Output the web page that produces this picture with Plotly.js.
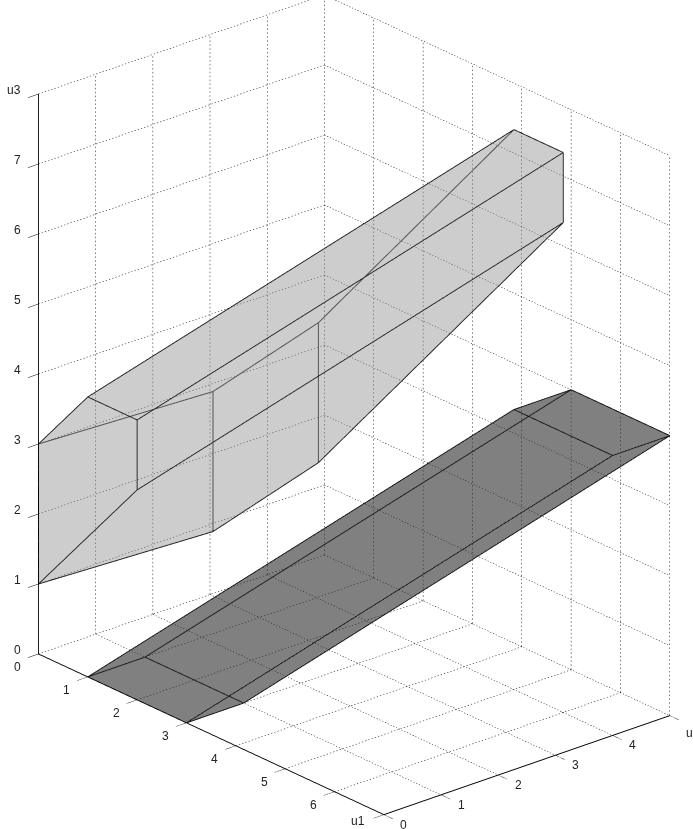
<!DOCTYPE html>
<html>
<head>
<meta charset="utf-8">
<script src="https://cdn.plot.ly/plotly-3.0.1.min.js"></script>
<style>html,body{margin:0;padding:0;background:#fff;overflow:hidden}#plot{width:693px;height:829px}</style>
</head>
<body>
<div id="plot"></div>
<script>
// Tick positions and labels of the three axes
const u1Ticks = [0, 1, 2, 3, 4, 5, 6, 7];
const u2Ticks = [0, 1, 2, 3, 4, 5];
const u3Ticks = [0, 1, 2, 3, 4, 5, 6, 7, 8];
const u1Labels = ["0", "1", "2", "3", "4", "5", "6", "u1"];
const u2Labels = ["0", "1", "2", "3", "4", "u"];
const u3Labels = ["0", "1", "2", "3", "4", "5", "6", "7", "u3"];

// Upper (light) polytope vertices
const upperU1 = [0, 0, 1, 2, 2, 0.2, 0.2, 1.14, 1.14, 5, 6, 6];
const upperU2 = [0, 0, 0, 0, 0, 2.88, 2.88, 3.91, 3.91, 4, 4, 4];
const upperU3 = [1, 3, 4, 4, 3, 1, 3, 2, 4, 8, 8, 7];
const upperFaces = [[0, 4, 3, 2, 1], [0, 4, 11, 7, 5], [4, 3, 10, 11], [2, 3, 10, 9]];
const upperEdges = [[0, 1], [1, 2], [2, 3], [3, 4], [4, 0], [0, 5], [1, 6], [5, 6], [5, 7], [6, 8], [7, 8],
  [7, 11], [8, 9], [2, 9], [3, 10], [4, 11], [9, 10], [10, 11]];

// Lower (dark) polytope vertices
const lowerU1 = [1, 1, 3, 3, 5, 5, 7, 7];
const lowerU2 = [0, 1, 1, 0, 4, 5, 5, 4];
const lowerU3 = [0, 0, 0, 0, 4, 4, 4, 4];
const lowerFaces = [[4, 5, 6, 7], [0, 3, 7, 4], [3, 2, 6, 7]];
const lowerEdges = [[0, 1], [1, 2], [2, 3], [3, 0], [4, 5], [5, 6], [6, 7], [7, 4], [0, 4], [1, 5], [2, 6], [3, 7]];

const eye = { x: 0.69, y: -0.605, z: 0.392 };
const eyeScale = 2.5;
const boxScale = 0.1837;
const flatScale = 0.992;
const tallScale = 1.0036;
const labelFont = { family: "Liberation Sans, Arial, sans-serif", size: 12, color: "#222222" };

// Fan triangulation of the polygon faces for mesh3d
function meshTrace(xs, ys, zs, faces, color, opacity) {
  const i = [], j = [], k = [];
  faces.forEach(face => {
    for (let n = 1; n < face.length - 1; n++) {
      i.push(face[0]);
      j.push(face[n]);
      k.push(face[n + 1]);
    }
  });
  return {
    type: "mesh3d", x: xs, y: ys, z: zs, i, j, k,
    color, opacity, flatshading: true, hoverinfo: "skip",
    lighting: { ambient: 1, diffuse: 0, specular: 0, roughness: 1, fresnel: 0 }
  };
}

// Polytope edges as one broken line
function edgeTrace(xs, ys, zs, edges, color) {
  const x = [], y = [], z = [];
  edges.forEach(([a, b]) => {
    x.push(xs[a], xs[b], null);
    y.push(ys[a], ys[b], null);
    z.push(zs[a], zs[b], null);
  });
  return { type: "scatter3d", mode: "lines", x, y, z, hoverinfo: "skip", line: { color, width: 2 } };
}

// Dotted grid on the floor and on the two back walls.
// The gl dash pattern is far too long here, so each grid line is cut into short pieces
function gridTrace() {
  const x = [], y = [], z = [];
  const top1 = u1Ticks[u1Ticks.length - 1];
  const top2 = u2Ticks[u2Ticks.length - 1];
  const top3 = u3Ticks[u3Ticks.length - 1];
  const step = 0.056, dot = 0.022;
  const seg = (a, b) => {
    const len = Math.hypot(b[0] - a[0], b[1] - a[1], b[2] - a[2]);
    for (let s = 0; s < len; s += step) {
      const e = Math.min(len, s + dot);
      x.push(a[0] + (b[0] - a[0]) * s / len, a[0] + (b[0] - a[0]) * e / len, null);
      y.push(a[1] + (b[1] - a[1]) * s / len, a[1] + (b[1] - a[1]) * e / len, null);
      z.push(a[2] + (b[2] - a[2]) * s / len, a[2] + (b[2] - a[2]) * e / len, null);
    }
  };
  u1Ticks.forEach(t => {
    seg([t, 0, 0], [t, top2, 0]);
    seg([t, top2, 0], [t, top2, top3]);
  });
  u2Ticks.forEach(t => {
    seg([0, t, 0], [top1, t, 0]);
    seg([0, t, 0], [0, t, top3]);
  });
  u3Ticks.forEach(t => {
    seg([0, 0, t], [0, top2, t]);
    seg([0, top2, t], [top1, top2, t]);
  });
  return { type: "scatter3d", mode: "lines", x, y, z, hoverinfo: "skip", line: { color: "#000000", width: 1 } };
}

function axisStyle(ticks) {
  return {
    title: { text: "" },
    range: [ticks[0], ticks[ticks.length - 1]],
    tickmode: "array", tickvals: ticks, showticklabels: false,
    ticks: "outside", ticklen: 14, tickcolor: "#000000", tickwidth: 1,
    showgrid: false, zeroline: false, showbackground: false,
    showline: true, linecolor: "#000000", linewidth: 2,
    showspikes: false
  };
}

// gl3d tick labels cannot be nudged, so they are anchored on the ticks as scene annotations
function tickLabel(x, y, z, text, xshift, yshift) {
  return { x, y, z, text, xshift, yshift, showarrow: false, xanchor: "center", yanchor: "middle", font: labelFont };
}

const tickLabels = [
  ...u1Ticks.map((t, n) => n === u1Ticks.length - 1
    ? tickLabel(t, 0, 0, u1Labels[n], -26, -6)
    : tickLabel(t, 0, 0, u1Labels[n], -21, -13)),
  ...u2Ticks.map((t, n) => tickLabel(u1Ticks[u1Ticks.length - 1], t, 0, u2Labels[n], 20, n === u2Ticks.length - 1 ? -17 : -10)),
  ...u3Ticks.map((t, n) => tickLabel(0, 0, t, u3Labels[n], n === u3Ticks.length - 1 ? -24 : -21, 4))
];

const traces = [
  gridTrace(),
  meshTrace(upperU1, upperU2, upperU3, upperFaces, "#909090", 0.45),
  meshTrace(lowerU1, lowerU2, lowerU3, lowerFaces, "#2b2b2b", 0.6),
  edgeTrace(upperU1, upperU2, upperU3, upperEdges, "#222222"),
  edgeTrace(lowerU1, lowerU2, lowerU3, lowerEdges, "#111111")
];

const layout = {
  width: 693, height: 829,
  margin: { l: 0, r: 0, t: 0, b: 0 },
  paper_bgcolor: "#ffffff",
  showlegend: false,
  scene: {
    domain: { x: [0, 1], y: [0, 1] },
    aspectmode: "manual",
    aspectratio: { x: 7 * boxScale * flatScale, y: 5 * boxScale * flatScale, z: 8 * boxScale * tallScale },
    xaxis: axisStyle(u1Ticks),
    yaxis: axisStyle(u2Ticks),
    zaxis: axisStyle(u3Ticks),
    annotations: tickLabels,
    camera: {
      projection: { type: "orthographic" },
      up: { x: 0, y: 0, z: 1 },
      center: { x: -0.0121, y: -0.0139, z: -0.0255 },
      eye: { x: eye.x * eyeScale, y: eye.y * eyeScale, z: eye.z * eyeScale }
    }
  }
};

Plotly.newPlot("plot", traces, layout, { displayModeBar: false });
</script>
</body>
</html>
